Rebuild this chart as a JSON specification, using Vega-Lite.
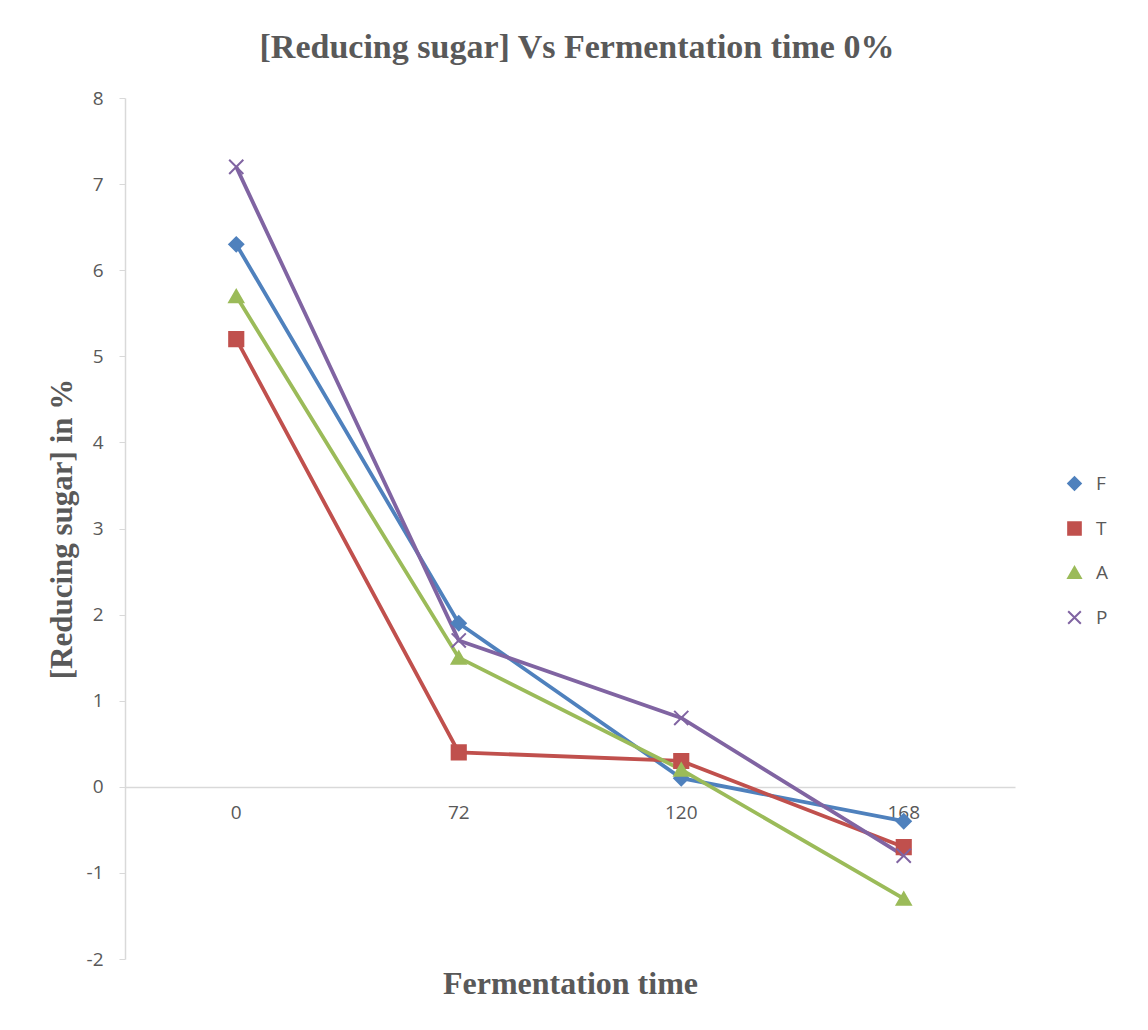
{
  "$schema": "https://vega.github.io/schema/vega-lite/v6.json",
  "autosize": "none",
  "width": 890,
  "height": 861,
  "padding": {"left": 125, "top": 98, "right": 133, "bottom": 71},
  "background": "white",
  "config": {"view": {"stroke": null}},
  "title": {
    "text": "[Reducing sugar] Vs Fermentation time 0%",
    "font": "Liberation Serif",
    "fontSize": 34,
    "fontWeight": "bold",
    "color": "#595959",
    "anchor": "middle",
    "dx": 7,
    "offset": 24
  },
  "data": {
    "values": [
      {"time": "0", "series": "F", "value": 6.3},
      {"time": "72", "series": "F", "value": 1.9},
      {"time": "120", "series": "F", "value": 0.1},
      {"time": "168", "series": "F", "value": -0.4},
      {"time": "0", "series": "T", "value": 5.2},
      {"time": "72", "series": "T", "value": 0.4},
      {"time": "120", "series": "T", "value": 0.3},
      {"time": "168", "series": "T", "value": -0.7},
      {"time": "0", "series": "A", "value": 5.7},
      {"time": "72", "series": "A", "value": 1.5},
      {"time": "120", "series": "A", "value": 0.2},
      {"time": "168", "series": "A", "value": -1.3},
      {"time": "0", "series": "P", "value": 7.2},
      {"time": "72", "series": "P", "value": 1.7},
      {"time": "120", "series": "P", "value": 0.8},
      {"time": "168", "series": "P", "value": -0.8}
    ]
  },
  "encoding": {
    "x": {
      "field": "time",
      "type": "ordinal",
      "sort": ["0", "72", "120", "168"],
      "scale": {"type": "band", "paddingInner": 0, "paddingOuter": 0},
      "axis": {
        "title": "Fermentation time",
        "titleFont": "Liberation Serif",
        "titleFontSize": 32,
        "titleFontWeight": "bold",
        "titleColor": "#595959",
        "titleY": 181,
        "offset": -172,
        "ticks": false,
        "domainColor": "#d9d9d9",
        "domainWidth": 1.5,
        "labelAngle": 0,
        "labelFont": "Open Sans",
        "labelFontSize": 19,
        "labelColor": "#595959",
        "labelPadding": 16,
        "grid": false
      }
    },
    "y": {
      "field": "value",
      "type": "quantitative",
      "scale": {"domain": [-2, 8], "nice": false, "zero": false},
      "axis": {
        "title": "[Reducing sugar] in %",
        "titleFont": "Liberation Serif",
        "titleFontSize": 31,
        "titleFontWeight": "bold",
        "titleColor": "#595959",
        "titleX": -63,
        "titleBaseline": "middle",
        "values": [-2, -1, 0, 1, 2, 3, 4, 5, 6, 7, 8],
        "labelExpr": "datum.value + ''",
        "grid": false,
        "domainColor": "#d9d9d9",
        "domainWidth": 1.5,
        "tickColor": "#d9d9d9",
        "tickSize": 6,
        "labelFont": "Open Sans",
        "labelFontSize": 19,
        "labelColor": "#595959",
        "labelPadding": 16
      }
    },
    "color": {
      "field": "series",
      "type": "nominal",
      "scale": {"domain": ["F", "T", "A", "P"], "range": ["#4f81bd", "#c0504d", "#9bbb59", "#8064a2"]},
      "legend": {
        "title": null,
        "orient": "none",
        "legendX": 940,
        "legendY": 376,
        "labelFont": "Open Sans",
        "labelFontSize": 19,
        "labelColor": "#595959",
        "rowPadding": 24,
        "symbolSize": 160,
        "symbolStrokeWidth": 2,
        "labelOffset": 12
      }
    }
  },
  "layer": [
    {
      "mark": {"type": "line", "strokeWidth": 3.8}
    },
    {
      "mark": {"type": "point", "filled": true, "size": 200, "strokeWidth": 2, "opacity": 1},
      "encoding": {
        "shape": {
          "field": "series",
          "type": "nominal",
          "scale": {"domain": ["F", "T", "A", "P"], "range": ["diamond", "square", "triangle-up", "M-1,-1L1,1M-1,1L1,-1"]}
        },
        "stroke": {
          "field": "series",
          "type": "nominal",
          "scale": {"domain": ["F", "T", "A", "P"], "range": ["#4f81bd", "#c0504d", "#9bbb59", "#8064a2"]}
        }
      }
    }
  ]
}
